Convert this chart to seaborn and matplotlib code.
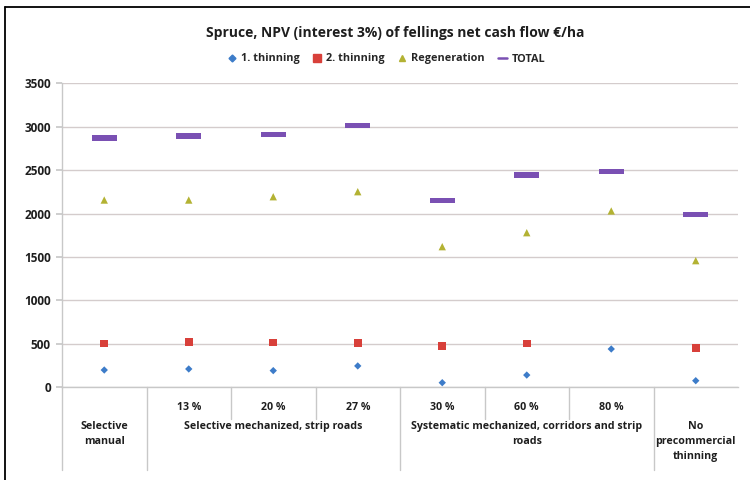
import numpy as np
import pandas as pd
import matplotlib
matplotlib.use("Agg")
import matplotlib.pyplot as plt
import matplotlib.transforms as mtransforms
from matplotlib.path import Path
from matplotlib.lines import Line2D
import seaborn as sns

# ---- data -------------------------------------------------------------
categories = [
    "Selective manual",
    "Selective mechanized 13 %",
    "Selective mechanized 20 %",
    "Selective mechanized 27 %",
    "Systematic mechanized 30 %",
    "Systematic mechanized 60 %",
    "Systematic mechanized 80 %",
    "No precommercial thinning",
]
sub_labels = ["", "13 %", "20 %", "27 %", "30 %", "60 %", "80 %", ""]
group_labels = [
    "Selective\nmanual",
    "Selective mechanized, strip roads",
    "Systematic mechanized, corridors and strip\nroads",
    "No\nprecommercial\nthinning",
]
group_sizes = [1, 3, 3, 1]

first_thinning = [199, 211, 192, 246, 53, 141, 441, 76]
second_thinning = [506, 525, 518, 512, 472, 506, np.nan, 452]
regeneration = [2156, 2156, 2194, 2252, 1619, 1780, 2030, 1458]
total = [2870, 2893, 2912, 3016, 2148, 2444, 2482, 1991]

series_names = ["1. thinning", "2. thinning", "Regeneration", "TOTAL"]
y_ticks = [0, 500, 1000, 1500, 2000, 2500, 3000, 3500]
title = "Spruce, NPV (interest 3%) of fellings net cash flow \u20ac/ha"

df = pd.DataFrame({
    "Category": categories * 4,
    "Series": np.repeat(series_names, len(categories)),
    "Value": first_thinning + second_thinning + regeneration + total,
}).dropna()

# ---- style ------------------------------------------------------------
sns.set_theme(style="white")
plt.rcParams["font.family"] = ["Open Sans", "DejaVu Sans"]
plt.rcParams["font.weight"] = "bold"
TXT = "#1e1e1e"

colors = {
    "1. thinning": "#3d7cc9",
    "2. thinning": "#d8403a",
    "Regeneration": "#b3b233",
    "TOTAL": "#7a50b3",
}
bar = Path([(-1, -0.2), (1, -0.2), (1, 0.2), (-1, 0.2), (-1, -0.2)],
           [Path.MOVETO, Path.LINETO, Path.LINETO, Path.LINETO, Path.CLOSEPOLY])
markers = {"1. thinning": "D", "2. thinning": "s", "Regeneration": "^", "TOTAL": bar}
sizes = {"1. thinning": 14, "2. thinning": 30, "Regeneration": 28, "TOTAL": 330}

fig = plt.figure(figsize=(7.5, 4.8), dpi=100)
fig.patch.set_facecolor("white")
W, H = 750, 480
x0, x1, y_top, y_bot = 62, 738, 83.3, 387.3
ax = fig.add_axes([x0 / W, (H - y_bot) / H, (x1 - x0) / W, (y_bot - y_top) / H])

sns.scatterplot(
    data=df, x="Category", y="Value",
    hue="Series", style="Series", size="Series",
    hue_order=series_names, style_order=series_names, size_order=series_names,
    palette=colors, markers=markers, sizes=sizes,
    linewidth=0, edgecolor="none", legend=False, zorder=3, ax=ax,
)

ax.set_xlim(-0.5, len(categories) - 0.5)
ax.set_ylim(0, 3500)
ax.set_yticks(y_ticks)
ax.set_yticklabels([str(v) for v in y_ticks], fontsize=8.5, fontweight="bold", color=TXT)
ax.set_xticks([])
ax.set_xlabel("")
ax.set_ylabel("")
ax.yaxis.grid(True, color="#d4cccc", linewidth=1.0)
ax.set_axisbelow(True)
for side in ["top", "right"]:
    ax.spines[side].set_visible(False)
for side in ["left", "bottom"]:
    ax.spines[side].set_color("#c8c8c8")
    ax.spines[side].set_linewidth(1.0)
ax.tick_params(axis="y", length=4, color="#c8c8c8", pad=4, left=True)

# ---- multi-level category axis -----------------------------------------
trans = mtransforms.blended_transform_factory(ax.transData, ax.transAxes)
axh = y_bot - y_top
long_bottom = -(470 - y_bot) / axh
short_bottom = -(419 - y_bot) / axh

edges = np.cumsum([0] + group_sizes) - 0.5
for e in edges[:-1]:
    ax.plot([e, e], [0, long_bottom], transform=trans, color="#c8c8c8",
            lw=1.0, clip_on=False)
for i in range(len(categories) - 1):
    b = i + 0.5
    if b not in edges:
        ax.plot([b, b], [0, short_bottom], transform=trans, color="#c8c8c8",
                lw=1.0, clip_on=False)

for i, lab in enumerate(sub_labels):
    if lab:
        ax.text(i, -(408 - y_bot) / axh, lab, transform=trans, ha="center",
                va="center", fontsize=7.7, fontweight="bold", color=TXT)

for g, lab in enumerate(group_labels):
    center = (edges[g] + edges[g + 1]) / 2
    ax.text(center, -(421 - y_bot) / axh, lab, transform=trans, ha="center",
            va="top", fontsize=7.7, fontweight="bold", color=TXT,
            linespacing=1.5, multialignment="center")

# ---- title and legend ---------------------------------------------------
fig.text(395 / W, 1 - 33 / H, title, ha="center", va="center",
         fontsize=10, fontweight="bold", color=TXT)

handles = [
    Line2D([], [], ls="none", marker="D", markersize=3.5, color=colors["1. thinning"]),
    Line2D([], [], ls="none", marker="s", markersize=6, color=colors["2. thinning"]),
    Line2D([], [], ls="none", marker="^", markersize=5, color=colors["Regeneration"]),
    Line2D([], [], ls="-", lw=1.8, color=colors["TOTAL"]),
]
fig.legend(handles, series_names, loc="center", bbox_to_anchor=(386 / W, 1 - 59 / H),
           ncol=4, frameon=False, handlelength=0.9, handletextpad=0.35,
           columnspacing=1.2, prop={"size": 7.8, "weight": "bold"})

# outer frame
fig.add_artist(Line2D([5 / W, 5 / W], [0, 1 - 7 / H], color="black", lw=1.3,
                      transform=fig.transFigure))
fig.add_artist(Line2D([5 / W, 1], [1 - 7 / H, 1 - 7 / H], color="black", lw=1.3,
                      transform=fig.transFigure))

fig.savefig("out.png", dpi=100, facecolor="white")
